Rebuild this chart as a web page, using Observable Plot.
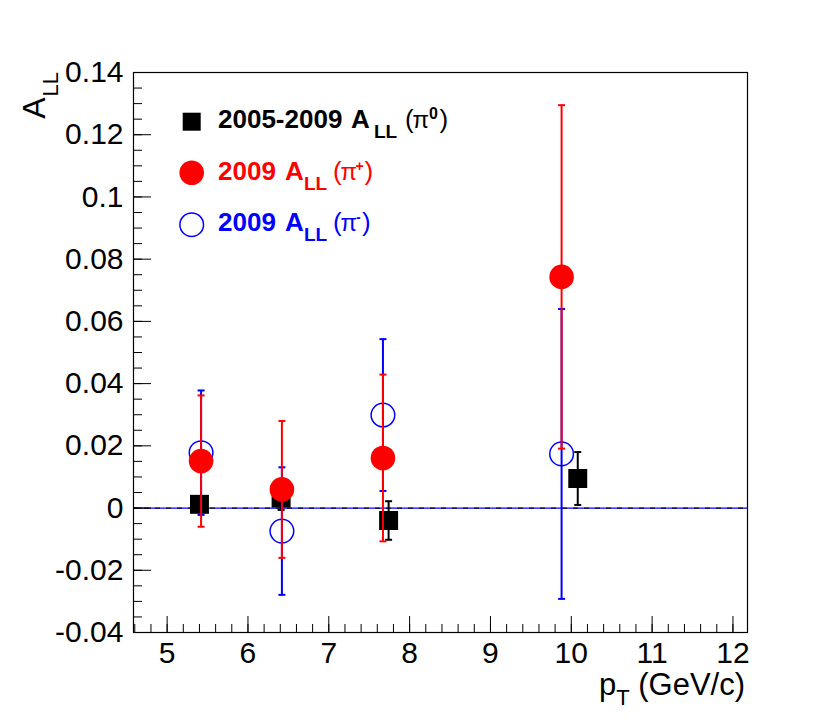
<!DOCTYPE html>
<html>
<head>
<meta charset="utf-8">
<script src="https://cdn.jsdelivr.net/npm/d3@7"></script>
<script src="https://cdn.jsdelivr.net/npm/@observablehq/plot@0.6"></script>
<style>
  html, body { margin: 0; padding: 0; background: #fff; }
  svg { display: block; }
</style>
</head>
<body>
<div id="chart"></div>
<script>
// ---- data ----
const pi0X      = [5.40, 6.41, 7.74, 10.08];
const pi0Y      = [0.0012, 0.0032, -0.0040, 0.0095];
const pi0Err    = [0.0025, 0.0038, 0.0062, 0.0085];

const piPlusX   = [5.42, 6.42, 7.67, 9.88];
const piPlusY   = [0.0151, 0.0060, 0.0161, 0.0743];
const piPlusErr = [0.0211, 0.0220, 0.0268, 0.0552];

const piMinusX   = [5.42, 6.42, 7.67, 9.88];
const piMinusY   = [0.0178, -0.0074, 0.0299, 0.0174];
const piMinusErr = [0.0200, 0.0205, 0.0244, 0.0466];

const xTicks = [5, 6, 7, 8, 9, 10, 11, 12];
const yTicks = [-0.04, -0.02, 0, 0.02, 0.04, 0.06, 0.08, 0.1, 0.12, 0.14];
const xMinor = d3.range(46, 121, 2).map(v => v / 10);
const yMinor = d3.range(-8, 29, 1).map(v => v * 0.005);

const legendLabels = ["2005-2009", "2009", "2009"];
const legendSup = ["0", "+", "-"];

// ---- build tables ----
const mk = (xs, ys, es) => xs.map((x, i) => ({x, y: ys[i], lo: ys[i] - es[i], hi: ys[i] + es[i]}));
const pi0 = mk(pi0X, pi0Y, pi0Err);
const piPlus = mk(piPlusX, piPlusY, piPlusErr);
const piMinus = mk(piMinusX, piMinusY, piMinusErr);

const W = 830, H = 718;
const mL = 133, mR = 83, mT = 72, mB = 86;
const innerH = H - mT - mB, innerW = W - mL - mR;
const FONT = "'Liberation Sans', Arial, Helvetica, sans-serif";

const cap = {draw(ctx) { ctx.moveTo(-3.5, 0); ctx.lineTo(3.5, 0); }};

function errMarks(data, color) {
  return [
    Plot.ruleX(data, {x: "x", y1: "lo", y2: "hi", stroke: color, strokeWidth: 2}),
    Plot.dot(data, {x: "x", y: "lo", symbol: cap, r: 4, stroke: color, strokeWidth: 2, fill: "none"}),
    Plot.dot(data, {x: "x", y: "hi", symbol: cap, r: 4, stroke: color, strokeWidth: 2, fill: "none"})
  ];
}

const svg = Plot.plot({
  width: W, height: H,
  marginLeft: mL, marginRight: mR, marginTop: mT, marginBottom: mB,
  style: {fontFamily: FONT, background: "white", color: "black"},
  x: {domain: [4.584, 12.18], label: null},
  y: {domain: [-0.04, 0.14], label: null},
  marks: [
    Plot.ruleY([0], {stroke: "#0000ff", strokeWidth: 1.3}),
    Plot.ruleY([0], {stroke: "black", strokeWidth: 1.3, strokeDasharray: "5,6", strokeOpacity: 0.85}),
    ...errMarks(pi0, "black"),
    Plot.dot(pi0, {x: "x", y: "y", symbol: "square", r: 10.7, fill: "black"}),
    ...errMarks(piMinus, "#0000ff"),
    Plot.dot(piMinus, {x: "x", y: "y", r: 11.8, fill: "none", stroke: "#0000ff", strokeWidth: 1.5}),
    ...errMarks(piPlus, "#ff0000"),
    Plot.dot(piPlus, {x: "x", y: "y", r: 12.3, fill: "#ff0000"}),
    // inward ticks
    Plot.ruleX(xTicks, {x: d => d, stroke: "black", insetTop: innerH - 16}),
    Plot.ruleX(xMinor, {x: d => d, stroke: "black", insetTop: innerH - 8}),
    Plot.ruleY(yTicks, {y: d => d, stroke: "black", insetRight: innerW - 18}),
    Plot.ruleY(yMinor, {y: d => d, stroke: "black", insetRight: innerW - 9}),
    Plot.axisX({ticks: xTicks, tickSize: 0, tickPadding: 9, fontSize: 30, tickFormat: d => String(d), label: null}),
    Plot.axisY({ticks: yTicks, tickSize: 0, tickPadding: 10, fontSize: 30, tickFormat: d => d === 0 ? "0" : String(d), label: null}),
    Plot.frame({stroke: "black", strokeWidth: 1.2})
  ]
});
document.getElementById("chart").appendChild(svg);

// ---- titles & legend (text with sub/superscripts) ----
const s = d3.select(svg);

// y title: A_LL rotated
const yt = s.append("text")
  .attr("transform", `translate(45,${mT}) rotate(-90)`)
  .attr("text-anchor", "end")
  .attr("font-family", FONT).attr("font-size", 32).attr("fill", "black");
yt.append("tspan").text("A");
yt.append("tspan").attr("font-size", 22).attr("dy", 13).attr("dx", 1).text("LL");

// x title: p_T (GeV/c)
const xt = s.append("text")
  .attr("x", 745).attr("y", 695)
  .attr("text-anchor", "end")
  .attr("font-family", FONT).attr("font-size", 31).attr("fill", "black");
xt.append("tspan").text("p");
xt.append("tspan").attr("font-size", 22).attr("dy", 10).text("T");
xt.append("tspan").attr("dy", -10).text(" (GeV/c)");

// legend
const legendColors = ["black", "#ff0000", "#0000ff"];
const legendBase = [128, 179.5, 230.5];
const legendCy = [121.7, 172.8, 224.7];
const pieces = [
  {A: 351, LL: 374, lp: 405, pi: 412.5, sup: 429, rp: 439.5},
  {A: 285, LL: 304, lp: 333, pi: 340.5, sup: 355.5, rp: 364.5},
  {A: 285, LL: 304, lp: 333, pi: 340.5, sup: 356, rp: 362}
];
const lg = s.append("g").attr("font-family", FONT).attr("font-weight", "bold").attr("text-anchor", "start");
lg.append("rect").attr("x", 182.7).attr("y", legendCy[0] - 9).attr("width", 18).attr("height", 18).attr("fill", "black");
lg.append("circle").attr("cx", 191.7).attr("cy", legendCy[1]).attr("r", 12.3).attr("fill", "#ff0000");
lg.append("circle").attr("cx", 191.7).attr("cy", legendCy[2]).attr("r", 11.8).attr("fill", "none").attr("stroke", "#0000ff").attr("stroke-width", 1.5);
legendLabels.forEach((lab, i) => {
  const b = legendBase[i], p = pieces[i], c = legendColors[i];
  const t = lg.append("text").attr("fill", c).attr("font-size", 26).attr("text-anchor", "start");
  t.append("tspan").attr("x", 218).attr("y", b).text(lab);
  t.append("tspan").attr("x", p.A).attr("y", b).text("A");
  t.append("tspan").attr("x", p.LL).attr("y", b + 10).attr("font-size", 19).text("LL");
  t.append("tspan").attr("x", p.lp).attr("y", b).attr("font-weight", "normal").text("(");
  t.append("tspan").attr("x", p.pi).attr("y", b).attr("font-weight", "normal").attr("font-size", 24).text("π");
  t.append("tspan").attr("x", p.sup).attr("y", b - 9).attr("font-size", i === 0 ? 16 : 14).text(legendSup[i]);
  t.append("tspan").attr("x", p.rp).attr("y", b).attr("font-weight", "normal").text(")");
});
</script>
</body>
</html>
